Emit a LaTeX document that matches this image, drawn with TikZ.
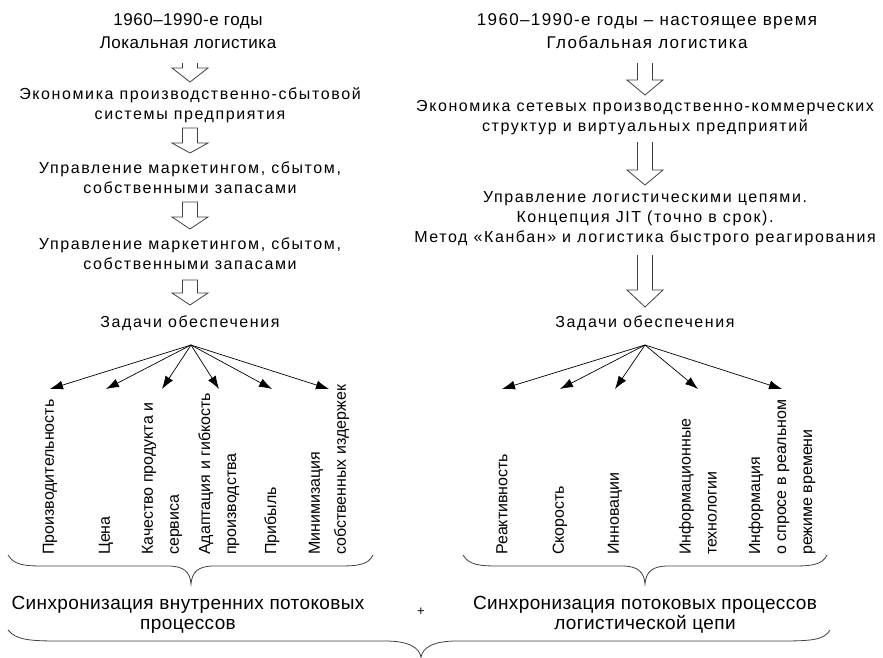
\documentclass[tikz,border=0pt]{standalone}
\usepackage{fontspec}
\setmainfont{Liberation Sans}
\usetikzlibrary{arrows.meta}

\tikzset{
  ttl/.style={align=center, inner sep=0pt, font=\fontsize{17}{23}\selectfont\addfontfeature{LetterSpace=3}},
  txt/.style={align=center, inner sep=0pt, font=\fontsize{16}{20}\selectfont\addfontfeature{LetterSpace=10}},
  lab/.style={rotate=90, anchor=west, align=left, inner sep=0pt, font=\fontsize{16}{26}\selectfont},
  syn/.style={align=center, inner sep=0pt, font=\fontsize{19}{20}\selectfont\addfontfeature{LetterSpace=2}},
  hollow/.style={draw=black!75, line width=0.8pt},
  fan/.style={-{Latex[length=13pt,width=9pt]}, line width=0.7pt},
  curly/.style={draw=black!75, line width=0.8pt},
}

% hollow block arrow: x, top of shaft, shoulder, tip
\newcommand{\blockarrow}[4]{%
  \draw[hollow] (#1-7.5,#2) -- (#1-7.5,#3) -- (#1-18,#3) -- (#1,#4) -- (#1+18,#3) -- (#1+7.5,#3) -- (#1+7.5,#2);}
\newcommand{\blockarrowc}[4]{%
  \draw[hollow] (#1-7.5,#2) -- (#1-7.5,#3) -- (#1-18,#3) -- (#1,#4) -- (#1+18,#3) -- (#1+7.5,#3) -- (#1+7.5,#2) -- cycle;}

\begin{document}
\begin{tikzpicture}[x=1pt,y=-1pt]
		\useasboundingbox (0,0) rectangle (883,657);

		% left column
		\node[ttl] (ttlL) at (188,31.5) {1960--1990-е годы\\Локальная логистика};
		\node[txt] (ecoL) at (190,105.5) {Экономика производственно-сбытовой\\системы предприятия};
		\node[txt] (updA) at (190,178) {Управление маркетингом, сбытом,\\собственными запасами};
		\node[txt] (updB) at (190,254) {Управление маркетингом, сбытом,\\собственными запасами};
		\node[txt] (zadL) at (190,323) {Задачи обеспечения};

		\blockarrow{190}{63}{68}{82}
		\blockarrowc{190}{128}{143}{153}
		\blockarrowc{190}{202}{217}{229}
		\blockarrowc{190}{280}{293}{305}

		% right column
		\node[ttl, font=\fontsize{17}{23}\selectfont\addfontfeature{LetterSpace=8}] (ttlR) at (647,31.5) {1960--1990-е годы -- настоящее время\\Глобальная логистика};
		\node[txt] (ecoR) at (645,117.5) {Экономика сетевых производственно-коммерческих\\структур и виртуальных предприятий};
		\node[txt] (updR) at (645,219) {Управление логистическими цепями.\\Концепция JIT (точно в срок).\\Метод «Канбан» и логистика быстрого реагирования};
		\node[txt] (zadR) at (645,323) {Задачи обеспечения};

		\blockarrow{645}{63}{80}{95}
		\blockarrow{645}{142}{170}{185}
		\blockarrow{645}{255}{290}{307}

		% labels
		\coordinate (apexL) at (191,345);
		\coordinate (apexR) at (645,345);
		\coordinate (tips) at (0,389);

		\node[lab] (pro) at (50,555) {Производительность};
		\node[lab] (cen) at (106,555) {Цена};
		\node[lab] (kac) at (162,555) {Качество продукта и\\сервиса};
		\node[lab] (ada) at (219,555) {Адаптация и гибкость\\производства};
		\node[lab] (pri) at (272,555) {Прибыль};
		\node[lab] (min) at (329,555) {Минимизация\\собственных издержек};

		\node[lab] (rea) at (502,555) {Реактивность};
		\node[lab] (sko) at (560,555) {Скорость};
		\node[lab] (inn) at (615,555) {Инновации};
		\node[lab] (int) at (698,555) {Информационные\\технологии};
		\node[lab] (inf) at (782,555) {Информация\\о спросе в реальном\\режиме времени};

		\foreach \t in {pro,cen,kac,ada,pri,min}
			\draw[fan] (apexL) -- (\t.center |- tips);
		\foreach \t in {rea,sko,inn,int,inf}
			\draw[fan] (apexR) -- (\t.center |- tips);

		% braces
		\draw[curly] (8,555) .. controls (14,565) and (24,566) .. (44,566) -- (168,566)
			.. controls (184,566) and (190,572) .. (191,584)
			.. controls (192,572) and (198,566) .. (214,566) -- (338,566)
			.. controls (358,566) and (368,565) .. (373,555);
		\draw[curly] (463,555) .. controls (469,565) and (479,566) .. (499,566) -- (622,566)
			.. controls (638,566) and (644,572) .. (645,584)
			.. controls (646,572) and (652,566) .. (668,566) -- (792,566)
			.. controls (812,566) and (822,565) .. (827,555);

		\node[syn] (synL) at (188,615) {Синхронизация внутренних потоковых\\процессов};
		\node[syn] (synR) at (645,615) {Синхронизация потоковых процессов\\логистической цепи};
		\node[inner sep=0pt, font=\fontsize{13}{13}\selectfont] (plus) at (421,612) {+};

		\draw[curly] (8,630) .. controls (16,640) and (30,641) .. (60,641) -- (385,641)
			.. controls (410,641) and (419,648) .. (421,657)
			.. controls (423,648) and (432,641) .. (457,641) -- (780,641)
			.. controls (812,641) and (824,640) .. (830,630);

		\end{tikzpicture}
\end{document}
